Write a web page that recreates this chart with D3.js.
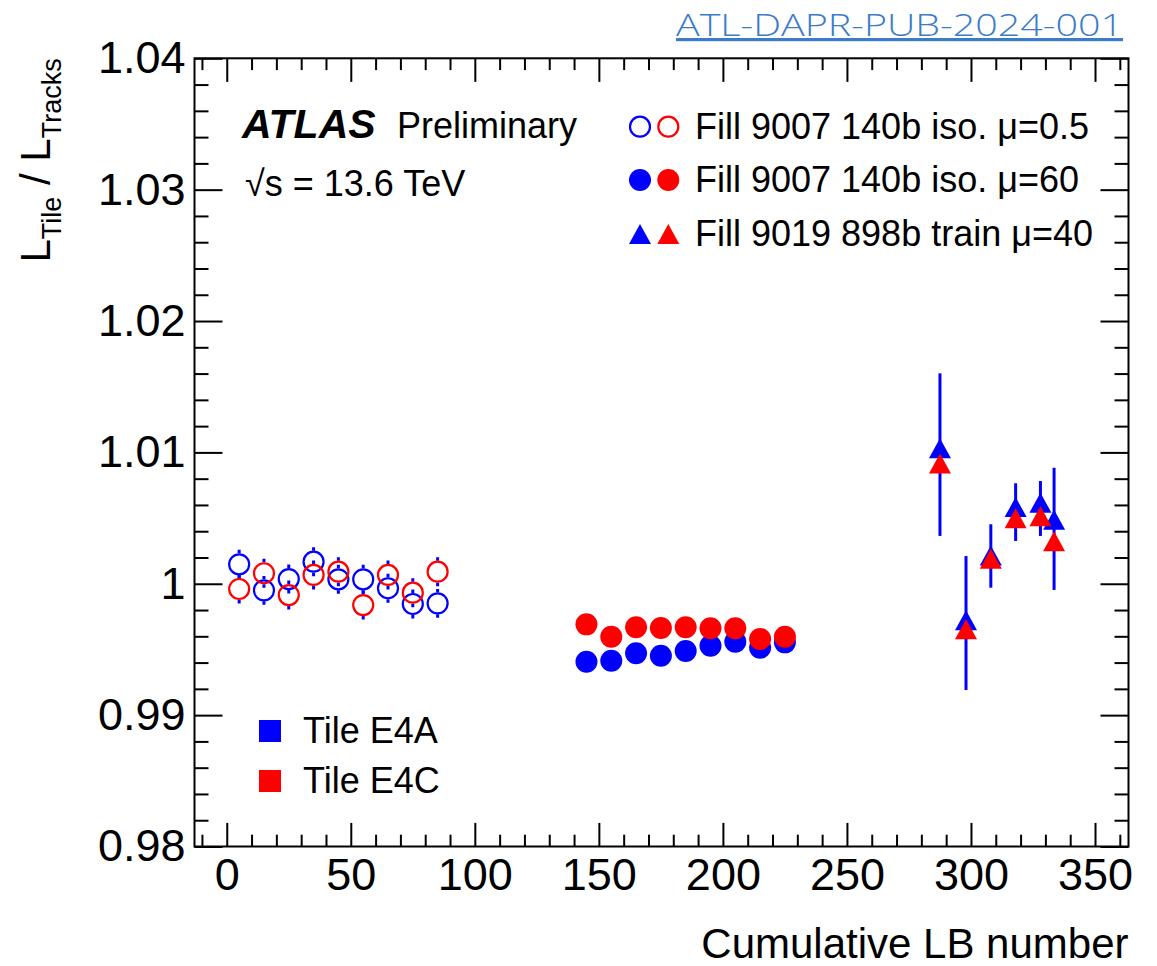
<!DOCTYPE html>
<html>
<head>
<meta charset="utf-8">
<script src="https://cdn.jsdelivr.net/npm/d3@7"></script>
<style>
  body { margin: 0; background: #fff; }
  text { font-family: "Liberation Sans", Arial, sans-serif; fill: #000; }
</style>
</head>
<body>
<div id="chart"></div>
<script>
var width = 1157, height = 966;

// Fill 9007, mu = 0.5 (open circles)
var lowMuLB = [5, 15, 25, 35, 45, 55, 65, 75, 85];
var lowMuE4A = [1.00148, 0.99950, 1.00036, 1.00168, 1.00034, 1.00034, 0.99966, 0.99846, 0.99851];
var lowMuE4C = [0.99960, 1.00080, 0.99914, 1.00067, 1.00092, 0.99838, 1.00067, 0.99932, 1.00092];
var lowMuErr = 0.0011;

// Fill 9007, mu = 60 (filled circles)
var highMuLB = [145, 155, 165, 175, 185, 195, 205, 215, 225];
var highMuE4A = [0.99407, 0.99414, 0.99471, 0.99452, 0.99488, 0.99528, 0.99559, 0.99513, 0.99554];
var highMuE4C = [0.99691, 0.99597, 0.99669, 0.99663, 0.99669, 0.99661, 0.99661, 0.99580, 0.99597];

// Fill 9019, train mu = 40 (triangles)
var trainLB = [287.5, 298, 308, 318, 328, 333.5];
var trainE4A = [1.01031, 0.99722, 1.00215, 1.00584, 1.00617, 1.00488];
var trainE4C = [1.00915, 0.99654, 1.00191, 1.00498, 1.00514, 1.00324];
var trainErrLo = [1.00364, 0.99191, 0.99970, 1.00326, 1.00364, 0.99953];
var trainErrHi = [1.01602, 1.00211, 1.00453, 1.00765, 1.00782, 1.00883];

var xTicks = [0, 50, 100, 150, 200, 250, 300, 350];
var yTicks = [0.98, 0.99, 1.00, 1.01, 1.02, 1.03, 1.04];
var yTickLabels = ['0.98', '0.99', '1', '1.01', '1.02', '1.03', '1.04'];

var legendRows = ['Fill 9007 140b iso. \u03bc=0.5', 'Fill 9007 140b iso. \u03bc=60', 'Fill 9019 898b train \u03bc=40'];
var tileLabels = ['Tile E4A', 'Tile E4C'];

var blue = '#0000ff', red = '#ff0000';

var svg = d3.select('#chart').append('svg')
  .attr('width', width)
  .attr('height', height);

var frame = {left: 194.5, right: 1128.5, top: 58.3, bottom: 846.5};

var x = d3.scaleLinear().domain([-13, 363.5]).range([frame.left, frame.right]);
var y = d3.scaleLinear().domain([0.98, 1.04]).range([frame.bottom, frame.top]);

var xMinor = d3.range(-10, 364, 10).filter(function(v){ return v % 50 !== 0; });
var yMinor = d3.range(0, 31).map(function(i){ return 0.98 + i * 0.002; })
  .filter(function(v, i){ return i % 5 !== 0; });

var xMajLen = 23.6, xMinLen = 11.8, yMajLen = 28, yMinLen = 14;

// axes (ticks point inside the frame, mirrored on top and right)
function styleAxis(g) {
  g.select('.domain').remove();
  g.selectAll('line').attr('stroke', '#000').attr('stroke-width', 2);
  g.selectAll('text').style('font-size', '45px').attr('fill', '#000');
}

svg.append('g').attr('transform', 'translate(0,' + frame.bottom + ')')
  .call(d3.axisBottom(x).tickValues(xTicks).tickSize(-xMajLen).tickPadding(12).tickFormat(d3.format('d')))
  .call(styleAxis);
svg.append('g').attr('transform', 'translate(0,' + frame.bottom + ')')
  .call(d3.axisBottom(x).tickValues(xMinor).tickSize(-xMinLen).tickFormat(''))
  .call(styleAxis);
svg.append('g').attr('transform', 'translate(0,' + frame.top + ')')
  .call(d3.axisTop(x).tickValues(xTicks).tickSize(-xMajLen).tickFormat(''))
  .call(styleAxis);
svg.append('g').attr('transform', 'translate(0,' + frame.top + ')')
  .call(d3.axisTop(x).tickValues(xMinor).tickSize(-xMinLen).tickFormat(''))
  .call(styleAxis);

svg.append('g').attr('transform', 'translate(' + frame.left + ',0)')
  .call(d3.axisLeft(y).tickValues(yTicks).tickSize(-yMajLen).tickPadding(9)
    .tickFormat(function(d, i){ return yTickLabels[i]; }))
  .call(styleAxis);
svg.append('g').attr('transform', 'translate(' + frame.left + ',0)')
  .call(d3.axisLeft(y).tickValues(yMinor).tickSize(-yMinLen).tickFormat(''))
  .call(styleAxis);
svg.append('g').attr('transform', 'translate(' + frame.right + ',0)')
  .call(d3.axisRight(y).tickValues(yTicks).tickSize(-yMajLen).tickFormat(''))
  .call(styleAxis);
svg.append('g').attr('transform', 'translate(' + frame.right + ',0)')
  .call(d3.axisRight(y).tickValues(yMinor).tickSize(-yMinLen).tickFormat(''))
  .call(styleAxis);

svg.append('rect')
  .attr('x', frame.left).attr('y', frame.top)
  .attr('width', frame.right - frame.left).attr('height', frame.bottom - frame.top)
  .attr('fill', 'none').attr('stroke', '#000').attr('stroke-width', 2);

// axis titles
svg.append('text')
  .attr('x', frame.right).attr('y', 958)
  .attr('text-anchor', 'end')
  .style('font-size', '42px')
  .text('Cumulative LB number');

var yt = svg.append('text')
  .attr('transform', 'translate(50,' + frame.top + ') rotate(-90)')
  .attr('text-anchor', 'end')
  .style('font-size', '42px');
yt.append('tspan').text('L');
yt.append('tspan').attr('dy', 11).style('font-size', '27px').text('Tile');
yt.append('tspan').attr('dy', -11).text(' / L');
yt.append('tspan').attr('dy', 11).style('font-size', '27px').text('Tracks');

// markers
var r = 11;
function triPath(cx, cy) {
  return 'M' + (cx - 11) + ',' + (cy + 10) + 'L' + (cx + 11) + ',' + (cy + 10) + 'L' + cx + ',' + (cy - 10) + 'Z';
}

var plot = svg.append('g');

// open circles: error bars only outside the marker
function openSeries(vals, color) {
  var pts = lowMuLB.map(function(lb, i){ return {lb: lb, v: vals[i]}; });
  plot.append('g').selectAll('path')
    .data(pts).enter().append('path')
    .attr('d', function(d){
      var cx = x(d.lb), cy = y(d.v), e = y(d.v - lowMuErr) - cy;
      return 'M' + cx + ',' + (cy - e) + 'V' + (cy - r) + 'M' + cx + ',' + (cy + r) + 'V' + (cy + e);
    })
    .attr('stroke', blue).attr('stroke-width', 3);
  plot.append('g').selectAll('circle')
    .data(pts).enter().append('circle')
    .attr('cx', function(d){ return x(d.lb); })
    .attr('cy', function(d){ return y(d.v); })
    .attr('r', r - 1)
    .attr('fill', 'none').attr('stroke', color).attr('stroke-width', 2.2);
}
openSeries(lowMuE4A, blue);
openSeries(lowMuE4C, red);

function filledSeries(vals, color) {
  plot.append('g').selectAll('circle')
    .data(highMuLB).enter().append('circle')
    .attr('cx', function(d){ return x(d); })
    .attr('cy', function(d, i){ return y(vals[i]); })
    .attr('r', r)
    .attr('fill', color);
}
filledSeries(highMuE4A, blue);
filledSeries(highMuE4C, red);

plot.append('g').selectAll('line')
  .data(trainLB).enter().append('line')
  .attr('x1', function(d){ return x(d); }).attr('x2', function(d){ return x(d); })
  .attr('y1', function(d, i){ return y(trainErrHi[i]); })
  .attr('y2', function(d, i){ return y(trainErrLo[i]); })
  .attr('stroke', blue).attr('stroke-width', 3);

function triSeries(vals, color) {
  plot.append('g').selectAll('path')
    .data(trainLB).enter().append('path')
    .attr('d', function(d, i){ return triPath(x(d), y(vals[i])); })
    .attr('fill', color);
}
triSeries(trainE4A, blue);
triSeries(trainE4C, red);

// ATLAS label
var atlas = svg.append('text').attr('x', 242).attr('y', 138).style('font-size', '36px');
atlas.append('tspan').style('font-weight', 'bold').style('font-style', 'italic').style('font-size', '41px').text('ATLAS');
atlas.append('tspan').attr('x', 397).text('Preliminary');
svg.append('text').attr('x', 245).attr('y', 196).style('font-size', '36px').text('\u221as = 13.6 TeV');

// legend top right
var legY = [126.7, 180, 234];
var leg = svg.append('g');
leg.selectAll('text.leg')
  .data(legendRows).enter().append('text')
  .attr('class', 'leg')
  .attr('x', 695).attr('y', function(d, i){ return legY[i] + 12; })
  .style('font-size', '36px')
  .text(function(d){ return d; });
[blue, red].forEach(function(c, j){
  var cx = 640 + j * 28.3;
  leg.append('circle').attr('cx', cx).attr('cy', legY[0]).attr('r', r - 1)
    .attr('fill', 'none').attr('stroke', c).attr('stroke-width', 2.2);
  leg.append('circle').attr('cx', cx).attr('cy', legY[1]).attr('r', r).attr('fill', c);
  leg.append('path').attr('d', triPath(cx, legY[2])).attr('fill', c);
});

// tile legend bottom left
var tileG = svg.append('g');
tileLabels.forEach(function(t, i){
  var cy = 731 + i * 50;
  tileG.append('rect').attr('x', 259).attr('y', cy - 11).attr('width', 22).attr('height', 22)
    .attr('fill', i === 0 ? blue : red);
  tileG.append('text').attr('x', 303).attr('y', cy + 12).style('font-size', '36px').text(t);
});

// reference link
svg.append('text')
  .attr('x', 676).attr('y', 36)
  .attr('textLength', 447).attr('lengthAdjust', 'spacingAndGlyphs')
  .style('font-family', '"Open Sans", sans-serif').style('font-weight', '300')
  .style('font-size', '32px').style('fill', '#3b7cc9')
  .style('text-decoration', 'underline')
  .text('ATL-DAPR-PUB-2024-001');
</script>
</body>
</html>
